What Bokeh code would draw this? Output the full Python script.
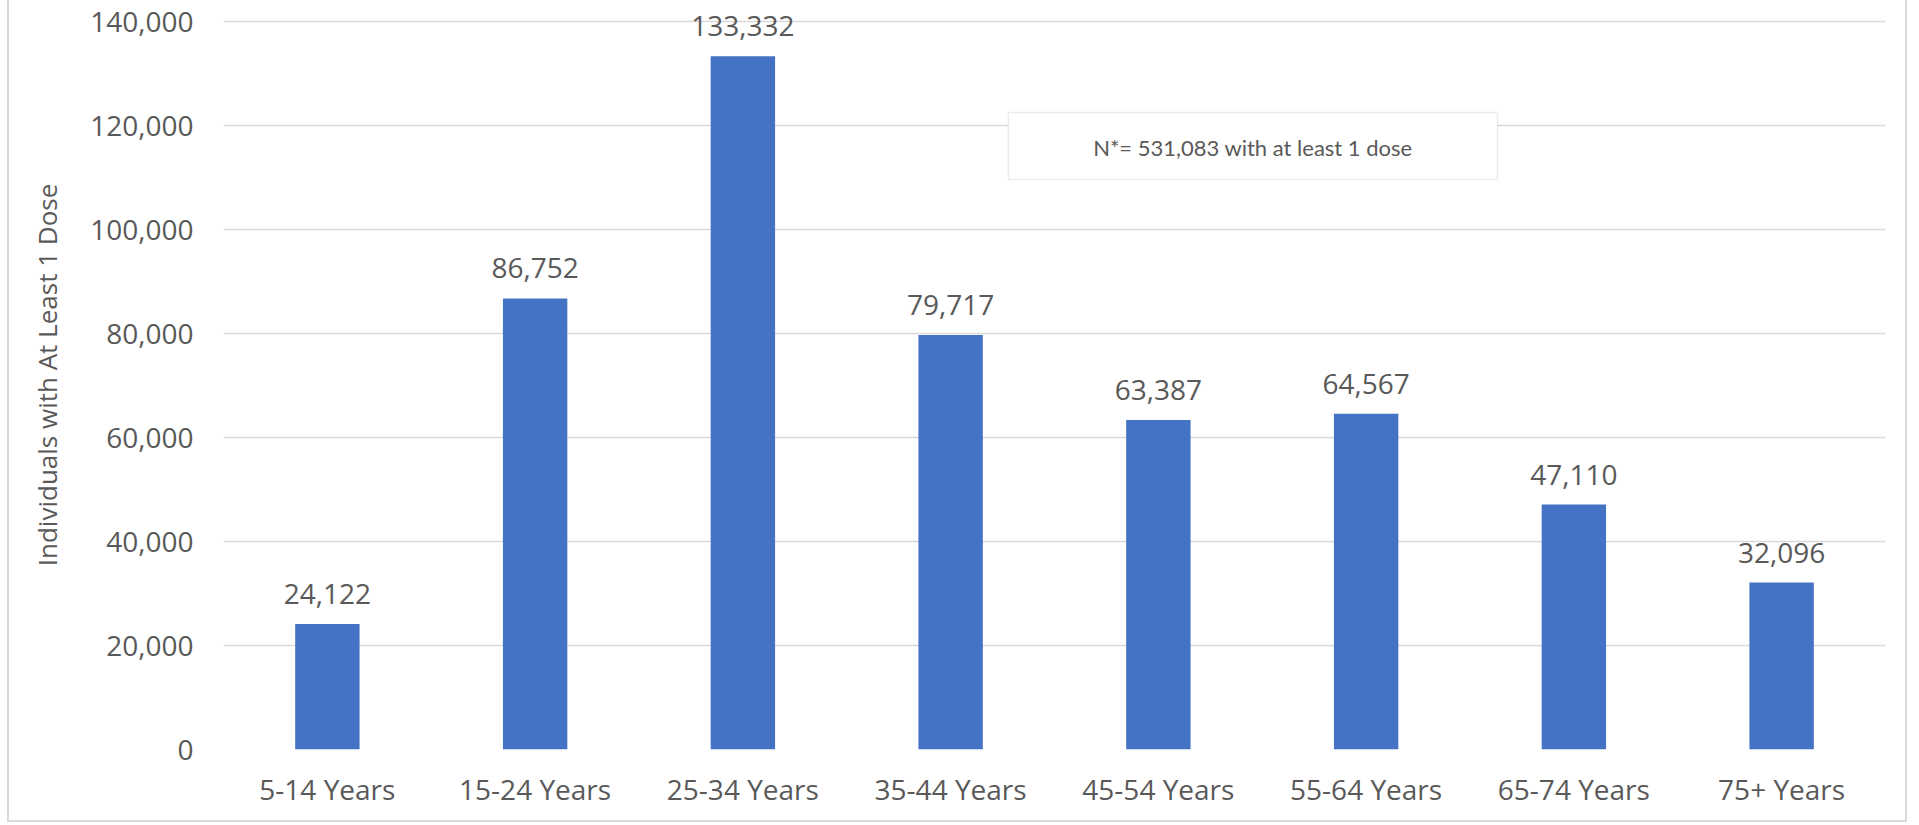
from bokeh.plotting import figure
from bokeh.models import (ColumnDataSource, FactorRange, Range1d, LabelSet, Label,
                          BoxAnnotation, NumeralTickFormatter, FixedTicker)
from bokeh.core.properties import value
from bokeh.embed import file_html
from bokeh.resources import INLINE

age_groups = ["5-14 Years", "15-24 Years", "25-34 Years", "35-44 Years",
              "45-54 Years", "55-64 Years", "65-74 Years", "75+ Years"]
individuals = [24122, 86752, 133332, 79717, 63387, 64567, 47110, 32096]
y_ticks = [0, 20000, 40000, 60000, 80000, 100000, 120000, 140000]
total_note = "N*= 531,083 with at least 1 dose"

TEXT = "#595959"
GRID = "#d9d9d9"
BAR = "#4472C4"
FONT = "Open Sans"

source = ColumnDataSource(dict(
    group=age_groups,
    value=individuals,
    label=[f"{v:,}" for v in individuals],
))

# headroom above the top gridline so the tallest value label is not cut off
y_top = y_ticks[-1] * 749 / 728

p = figure(
    width=1900, height=822,
    x_range=FactorRange(*age_groups, range_padding=0),
    y_range=Range1d(0, y_top),
    output_backend="svg", toolbar_location=None,
    min_border_left=214, min_border_right=24,
    min_border_top=0, min_border_bottom=73,
    margin=(0, 0, 0, 7),
    styles={
        "border-left": f"2px solid {GRID}",
        "border-right": f"2px solid {GRID}",
        "border-bottom": f"2px solid {GRID}",
    },
)
p.outline_line_color = None
p.background_fill_color = "white"
p.border_fill_color = "white"

p.vbar(x="group", top="value", width=0.31, source=source,
       fill_color=BAR, line_color=None)

# value labels above each bar
p.add_layout(LabelSet(x="group", y="value", text="label", source=source,
                      text_align="center", text_baseline="alphabetic", y_offset=20,
                      text_font=value(FONT), text_font_size=value("28px"),
                      text_color=TEXT))

# y axis
p.yaxis.ticker = FixedTicker(ticks=y_ticks)
p.yaxis.formatter = NumeralTickFormatter(format="0,0")
p.yaxis.axis_line_color = None
p.yaxis.major_tick_line_color = None
p.yaxis.minor_tick_line_color = None
p.yaxis.major_label_standoff = 24
p.yaxis.major_label_text_font = FONT
p.yaxis.major_label_text_font_size = "28px"
p.yaxis.major_label_text_color = TEXT
p.yaxis.axis_label = "Individuals with At Least 1 Dose"
p.yaxis.axis_label_text_font = FONT
p.yaxis.axis_label_text_font_size = "26px"
p.yaxis.axis_label_text_font_style = "normal"
p.yaxis.axis_label_text_color = TEXT
p.yaxis.axis_label_standoff = 22

# x axis
p.xaxis.axis_line_color = None
p.xaxis.major_tick_line_color = None
p.xaxis.minor_tick_line_color = None
p.xaxis.major_label_standoff = 14
p.xaxis.major_label_text_font = FONT
p.xaxis.major_label_text_font_size = "28px"
p.xaxis.major_label_text_color = TEXT

p.xgrid.grid_line_color = None
p.ygrid.grid_line_color = GRID
p.ygrid.grid_line_width = 1.5

# note box
p.add_layout(BoxAnnotation(left=3.778, right=6.132, bottom=109600, top=122500,
                           fill_color="white", fill_alpha=1.0,
                           line_color="#bfbfbf", line_width=1.5, level="overlay"))
p.add_layout(Label(x=4.955, y=115770, text=total_note, text_align="center",
                   text_baseline="middle", text_font="Lato",
                   text_font_size="22px", text_color=TEXT, level="overlay"))

open("out.html", "w").write(file_html(p, INLINE))
